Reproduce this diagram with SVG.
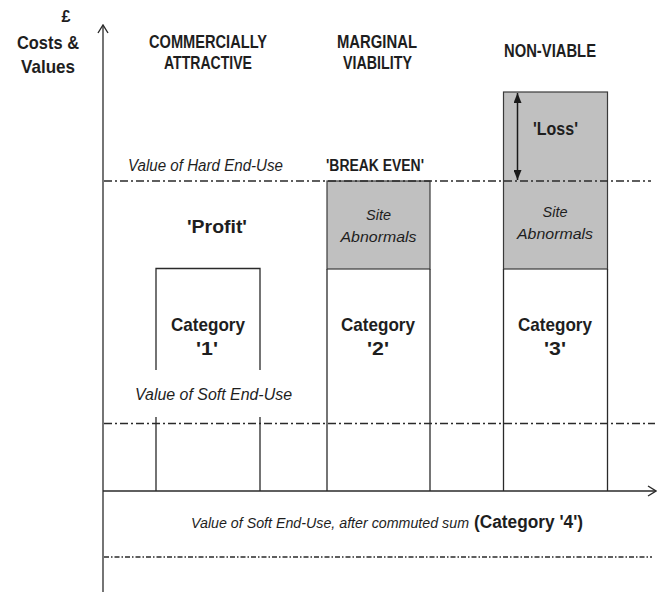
<svg xmlns="http://www.w3.org/2000/svg" width="660" height="592" viewBox="0 0 660 592">
<style>
.t{font-family:"Liberation Sans Narrow","Liberation Sans",Arial,sans-serif;fill:#1e1e1e;text-anchor:middle}
.b{font-weight:bold}
.i{font-style:italic}
.ln{stroke:#2a2a2a;stroke-width:1.3;fill:none}
.dd{stroke:#2a2a2a;stroke-width:1.5;fill:none;stroke-dasharray:8 3 2 3}
.dd2{stroke:#2a2a2a;stroke-width:1.4;fill:none;stroke-dasharray:5 2 1.5 2}
.gray{fill:#c0c0c0;stroke:#3a3a3a;stroke-width:1.2}
</style>
<defs>
<marker id="open" viewBox="0 0 10 12" refX="9" refY="6" markerWidth="10" markerHeight="12" markerUnits="userSpaceOnUse" orient="auto">
<path d="M1,1 L9,6 L1,11" fill="none" stroke="#2a2a2a" stroke-width="1.4"/>
</marker>
<marker id="fill" viewBox="0 0 10 8" refX="10" refY="4" markerWidth="10" markerHeight="8" markerUnits="userSpaceOnUse" orient="auto-start-reverse">
<path d="M0,0 L10,4 L0,8 Z" fill="#1a1a1a"/>
</marker>
</defs>
<rect width="660" height="592" fill="#fff"/>

<g id="cat3-col">
<rect class="gray" x="503.5" y="92" width="104" height="177"/>
<line class="ln" x1="503.5" y1="269" x2="503.5" y2="491"/>
<line class="ln" x1="607.5" y1="269" x2="607.5" y2="491"/>
</g>
<g id="cat2-col">
<rect class="gray" x="327" y="181" width="103" height="88"/>
<line class="ln" x1="327" y1="269" x2="327" y2="491"/>
<line class="ln" x1="430" y1="269" x2="430" y2="491"/>
</g>
<g id="cat1-box">
<path class="ln" d="M156,370 V268.5 H260 V370 M156,417 V491 M260,417 V491"/>
</g>

<g id="connectors">
<line class="dd" x1="104" y1="181" x2="651" y2="181"/>
<line class="dd" x1="104" y1="423.5" x2="655" y2="423.5"/>
<line class="dd2" x1="104" y1="557" x2="652" y2="557"/>
<line class="ln" x1="103" y1="592" x2="103" y2="25" marker-end="url(#open)"/>
<line class="ln" x1="103" y1="491" x2="656" y2="491" marker-end="url(#open)"/>
<line x1="517.5" y1="93" x2="517.5" y2="180" stroke="#1a1a1a" stroke-width="1.5" marker-start="url(#fill)" marker-end="url(#fill)"/>
</g>

<g id="axis-label">
<text class="t b" x="66" y="22" font-size="17" textLength="9" lengthAdjust="spacingAndGlyphs">£</text>
<text class="t b" x="48" y="49" font-size="19" textLength="62" lengthAdjust="spacingAndGlyphs">Costs &amp;</text>
<text class="t b" x="48" y="73" font-size="19" textLength="54" lengthAdjust="spacingAndGlyphs">Values</text>
</g>
<g id="headers">
<text class="t b" x="208" y="48" font-size="17.5" textLength="118" lengthAdjust="spacingAndGlyphs">COMMERCIALLY</text>
<text class="t b" x="208" y="69" font-size="17.5" textLength="88" lengthAdjust="spacingAndGlyphs">ATTRACTIVE</text>
<text class="t b" x="377" y="48" font-size="17.5" textLength="80" lengthAdjust="spacingAndGlyphs">MARGINAL</text>
<text class="t b" x="377.5" y="69" font-size="17.5" textLength="69" lengthAdjust="spacingAndGlyphs">VIABILITY</text>
<text class="t b" x="550" y="57" font-size="17.5" textLength="92" lengthAdjust="spacingAndGlyphs">NON-VIABLE</text>
</g>
<g id="hard-end-use">
<text class="t i" x="205.5" y="171" font-size="16" textLength="155" lengthAdjust="spacingAndGlyphs">Value of Hard End-Use</text>
<text class="t b" x="375" y="171" font-size="16" textLength="98" lengthAdjust="spacingAndGlyphs">'BREAK EVEN'</text>
<text class="t b" x="555.5" y="135" font-size="18" textLength="45" lengthAdjust="spacingAndGlyphs">'Loss'</text>
<text class="t b" x="217" y="233" font-size="18" textLength="60" lengthAdjust="spacingAndGlyphs">'Profit'</text>
</g>
<g id="cat1">
<text class="t b" x="208" y="331" font-size="19" textLength="74" lengthAdjust="spacingAndGlyphs">Category</text>
<text class="t b" x="207" y="355" font-size="19" textLength="22" lengthAdjust="spacingAndGlyphs">'1'</text>
<text class="t i" x="213.5" y="400" font-size="16" textLength="157" lengthAdjust="spacingAndGlyphs">Value of Soft End-Use</text>
</g>
<g id="cat2">
<text class="t i" x="378.5" y="220" font-size="15" textLength="25" lengthAdjust="spacingAndGlyphs">Site</text>
<text class="t i" x="378.5" y="242" font-size="15" textLength="76" lengthAdjust="spacingAndGlyphs">Abnormals</text>
<text class="t b" x="378" y="331" font-size="19" textLength="74" lengthAdjust="spacingAndGlyphs">Category</text>
<text class="t b" x="378" y="355" font-size="19" textLength="22" lengthAdjust="spacingAndGlyphs">'2'</text>
</g>
<g id="cat3">
<text class="t i" x="555" y="217" font-size="15" textLength="25" lengthAdjust="spacingAndGlyphs">Site</text>
<text class="t i" x="555" y="239" font-size="15" textLength="76" lengthAdjust="spacingAndGlyphs">Abnormals</text>
<text class="t b" x="555" y="331" font-size="19" textLength="74" lengthAdjust="spacingAndGlyphs">Category</text>
<text class="t b" x="555" y="355" font-size="19" textLength="22" lengthAdjust="spacingAndGlyphs">'3'</text>
</g>
<g id="cat4">
<text class="t i" x="191" y="528" font-size="14" text-anchor="start" style="text-anchor:start" textLength="278" lengthAdjust="spacingAndGlyphs">Value of Soft End-Use, after commuted sum</text>
<text class="t b" x="474" y="528" font-size="18" style="text-anchor:start" textLength="109" lengthAdjust="spacingAndGlyphs">(Category '4')</text>
</g>
</svg>
